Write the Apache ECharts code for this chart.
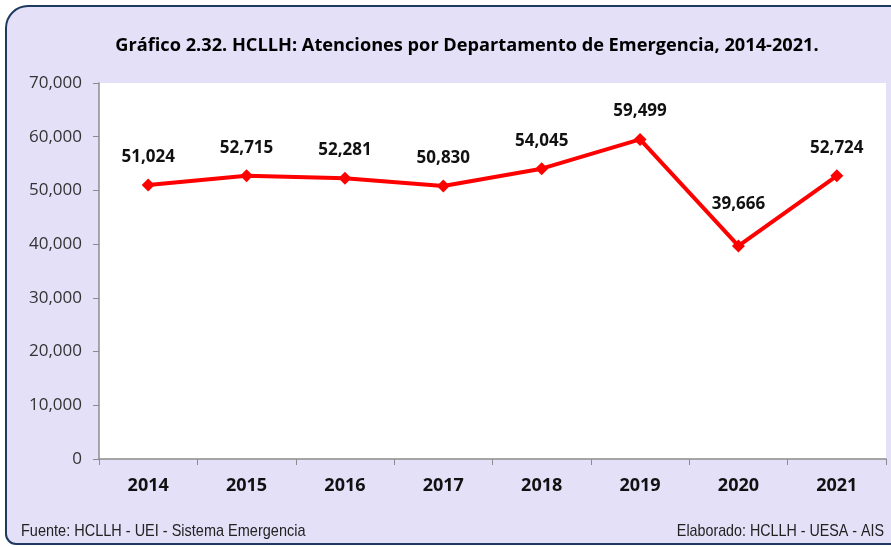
<!DOCTYPE html>
<html><head><meta charset="utf-8">
<script src="https://cdn.jsdelivr.net/npm/echarts@6/dist/echarts.min.js"></script>
<style>html,body{margin:0;padding:0;background:#fff}#c{width:891px;height:547px}</style>
</head><body><div id="c"></div>
<script>
const categories = ['2014','2015','2016','2017','2018','2019','2020','2021'];
const values = [51024, 52715, 52281, 50830, 54045, 59499, 39666, 52724];
const labelOffsets = [0, 0, 0, 0, 0, 0, -14, 0];
const titleText = 'Gráfico 2.32. HCLLH: Atenciones por Departamento de Emergencia, 2014-2021.';
const sourceText = 'Fuente: HCLLH - UEI - Sistema Emergencia';
const madeText = 'Elaborado: HCLLH - UESA - AIS';

const chart = echarts.init(document.getElementById('c'));
const fmt = v => v.toLocaleString('en-US');
const footFont = '17px "Liberation Sans Narrow", "Liberation Sans", sans-serif';
chart.setOption({
  backgroundColor: '#ffffff',
  animation: false,
  graphic: [
    {type:'rect', z:-10, shape:{x:6, y:6, width:900, height:538, r:[22,0,0,10]},
     style:{fill:'#E4E0F8', stroke:'#1F3A5F', lineWidth:2}},
    {type:'rect', z:-9, shape:{x:99, y:83, width:787, height:376}, style:{fill:'#ffffff'}},
    {type:'text', x:467, y:46, style:{text:titleText, font:'bold 18.2px "Open Sans", sans-serif', fill:'#000', align:'center', verticalAlign:'middle'}},
    {type:'text', x:21, y:531, scaleX:0.853, style:{text:sourceText, font:footFont, fill:'#222', align:'left', verticalAlign:'middle'}},
    {type:'text', x:884, y:531, scaleX:0.84, style:{text:madeText, font:footFont, fill:'#222', align:'right', verticalAlign:'middle'}}
  ],
  grid: {left:99, right:5, top:83, bottom:88},
  xAxis: {
    type:'category', data:categories, boundaryGap:true,
    axisLine:{lineStyle:{color:'#8c8c8c', width:1.5}},
    axisTick:{show:true, length:6, alignWithLabel:false, lineStyle:{color:'#8c8c8c'}},
    axisLabel:{margin:18, color:'#111', fontWeight:'bold', fontSize:18, fontFamily:'"Open Sans", sans-serif'}
  },
  yAxis: {
    type:'value', min:0, max:70000, interval:10000,
    axisLine:{show:true, lineStyle:{color:'#8c8c8c', width:1.5}},
    axisTick:{show:true, length:6, lineStyle:{color:'#8c8c8c'}},
    splitLine:{show:false},
    axisLabel:{margin:17, color:'#333', fontSize:17, fontFamily:'"Open Sans", sans-serif', formatter: v => fmt(v)}
  },
  series: [{
    type:'line', data: values.map((v,i)=>({value:v, label:{offset:[0, labelOffsets[i]]}})),
    lineStyle:{color:'#FF0000', width:4},
    itemStyle:{color:'#FF0000'},
    symbol:'diamond', symbolSize:13,
    label:{show:true, position:'top', distance:13, formatter: p => fmt(p.value),
      color:'#111', fontWeight:'bold', fontSize:17, fontFamily:'"Open Sans", sans-serif'}
  }]
});
</script></body></html>
